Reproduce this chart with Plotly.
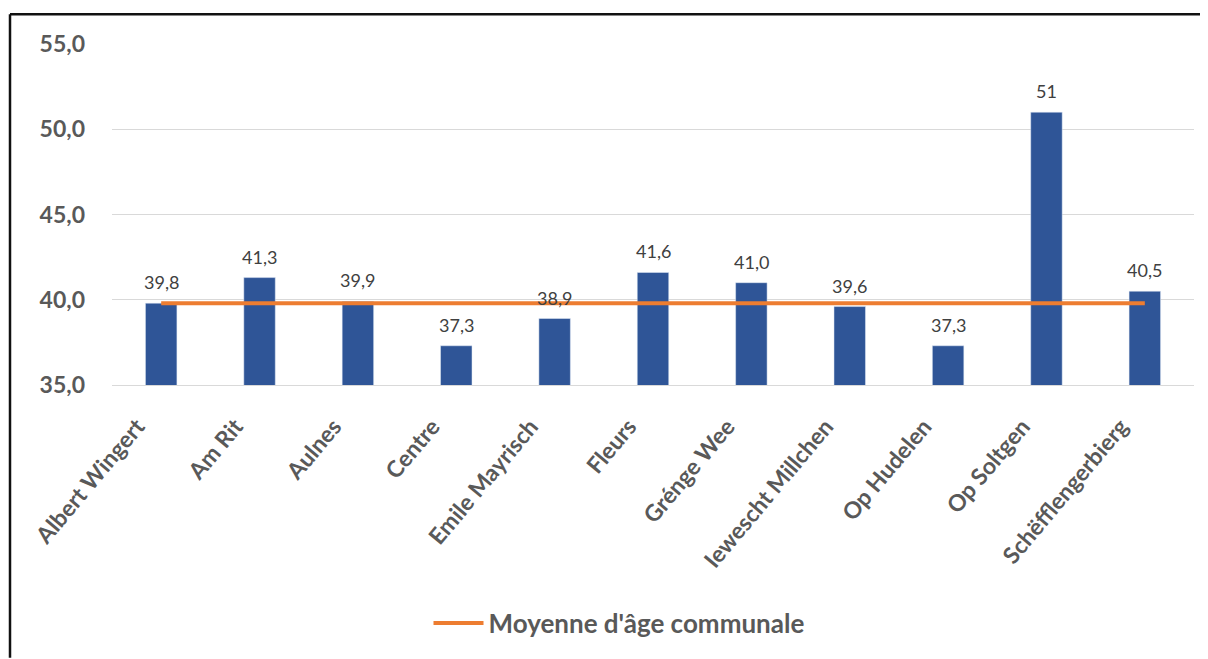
import plotly.graph_objects as go

categories = ["Albert Wingert", "Am Rit", "Aulnes", "Centre", "Emile Mayrisch", "Fleurs",
              "Grénge Wee", "Iewescht Millchen", "Op Hudelen", "Op Soltgen", "Schëfflengerbierg"]
ages = [39.8, 41.3, 39.9, 37.3, 38.9, 41.6, 41.0, 39.6, 37.3, 51.0, 40.5]
age_labels = ["39,8", "41,3", "39,9", "37,3", "38,9", "41,6", "41,0", "39,6", "37,3", "51", "40,5"]
average_name = "Moyenne d'âge communale"
average = [39.8] * len(categories)
y_ticks = [35, 40, 45, 50, 55]

# page offset of 8px (default body margin)
OFF = 8
W, H = 1208 - OFF, 659 - OFF
ml, mr, mt, mb = 112 - OFF, 14, 44 - OFF, 270
pw, ph = W - ml - mr, H - mt - mb

def px_x(x):
    return (x - OFF - ml) / pw

def px_y(y):
    return (H - mb - (y - OFF)) / ph

FONT = "Lato"

fig = go.Figure()
fig.add_trace(go.Bar(
    x=categories, y=ages, marker_color="#2F5597", width=0.32,
    showlegend=False, hoverinfo="skip",
))
fig.add_trace(go.Scatter(
    x=categories, y=average, mode="lines", name=average_name,
    line=dict(color="#ED7D31", width=4), hoverinfo="skip",
))

for c, v, t in zip(categories, ages, age_labels):
    fig.add_annotation(x=c, y=v, text=t, showarrow=False, yanchor="bottom",
                       yshift=8, font=dict(family=FONT, size=18, color="#404040"))

shapes = [
    dict(type="line", xref="paper", yref="paper", x0=px_x(10), x1=px_x(1215),
         y0=px_y(14), y1=px_y(14), line=dict(color="#111111", width=2.5)),
    dict(type="line", xref="paper", yref="paper", x0=px_x(10), x1=px_x(10),
         y0=px_y(14), y1=px_y(665), line=dict(color="#111111", width=2.5)),
]

fig.update_layout(
    width=W, height=H,
    margin=dict(l=ml, r=mr, t=mt, b=mb),
    paper_bgcolor="white", plot_bgcolor="white",
    separators=",.",
    shapes=shapes,
    font=dict(family=FONT, color="#595959"),
    legend=dict(orientation="h", x=px_x(619), y=px_y(630), xanchor="center", yanchor="middle",
                font=dict(family=FONT, size=26, color="#595959", weight="bold"),
                itemwidth=50),
    xaxis=dict(
        tickangle=-50, showgrid=False, showline=True, linecolor="#D9D9D9", linewidth=1,
        tickfont=dict(family=FONT, size=23, color="#595959", weight="bold"),
        ticks="", range=[-0.5, len(categories) - 0.5],
        ticklabelstandoff=18, ticklabelshift=-24,
    ),
    yaxis=dict(
        range=[35, 55], tickvals=y_ticks, tickformat=".1f",
        showgrid=True, gridcolor="#D9D9D9", gridwidth=1, zeroline=False,
        tickfont=dict(family=FONT, size=23, color="#595959", weight="bold"),
        ticklabelstandoff=26, ticks="",
    ),
)

fig.write_html("out.html")
